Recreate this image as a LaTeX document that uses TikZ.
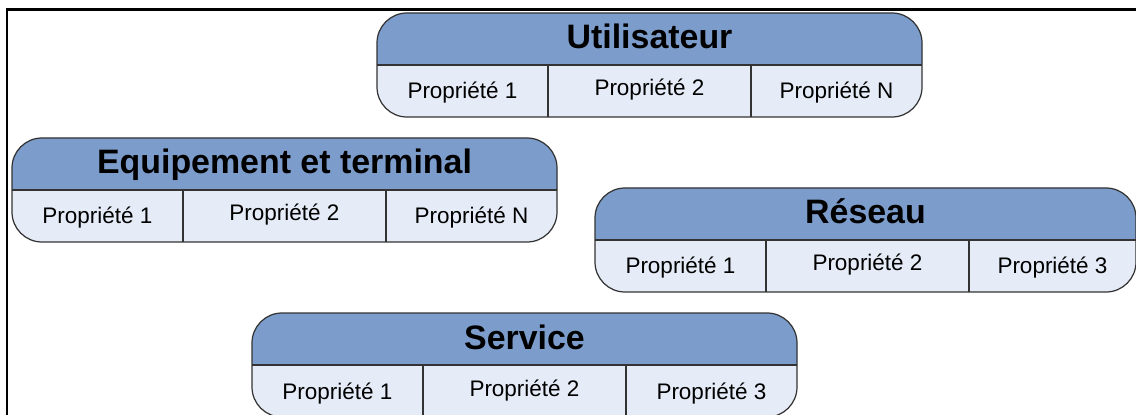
\documentclass[tikz,border=0pt]{standalone}
\usepackage{fontspec}
\setmainfont{Liberation Sans}
\usetikzlibrary{calc,positioning}
\definecolor{entete}{HTML}{7C9DCB}
\definecolor{corps}{HTML}{E6ECF7}
\definecolor{trait}{HTML}{333333}
\tikzset{
	titre/.style={font=\fontsize{19.3}{23}\selectfont\bfseries, anchor=base, inner sep=0pt},
	prop/.style={font=\fontsize{12.8}{15}\selectfont, anchor=base, inner sep=0pt}
}
\newcommand{\bloc}[6][545]
	{
	\begin{scope}[shift={(#3,#4)}]
	% fond et entete
	\fill[corps, rounded corners=0.6cm] (0,0) rectangle (#1,104);
	\begin{scope}
	\clip (0,0) rectangle (#1,52);
	\fill[entete, rounded corners=0.6cm] (0,0) rectangle (#1,104);
	\end{scope}
	% contour et separations
	\draw[trait, line width=0.7pt, rounded corners=0.6cm] (0,0) rectangle (#1,104);
	\draw[trait, line width=0.7pt] (0,52) -- (#1,52) (171,52) -- (171,104) (374,52) -- (374,104);
	% textes
	\node[titre] (#2-titre) at ({#1/2},36) {#5};
	\node[prop] (#2-p1) at (85.5,86) {Propriété 1};
	\node[prop] (#2-p2) at (272.5,83) {Propriété 2};
	\node[prop] (#2-p3) at ({(374+#1)/2},86) {Propriété #6};
	\end{scope}
	}

\begin{document}
\begin{tikzpicture}[x=0.02cm, y=-0.02cm]
\useasboundingbox (0,0) rectangle (1136,415);

% cadre
\draw[line width=0.06cm] (7,430) |- (1150,10);

% les quatre entites
\bloc{util}{377}{13}{Utilisateur}{N}
\bloc{equip}{12}{138}{Equipement et terminal}{N}
\bloc[541]{reseau}{595}{188}{Réseau}{3}
\bloc{serv}{252}{313}{Service}{3}

\end{tikzpicture}
\end{document}
